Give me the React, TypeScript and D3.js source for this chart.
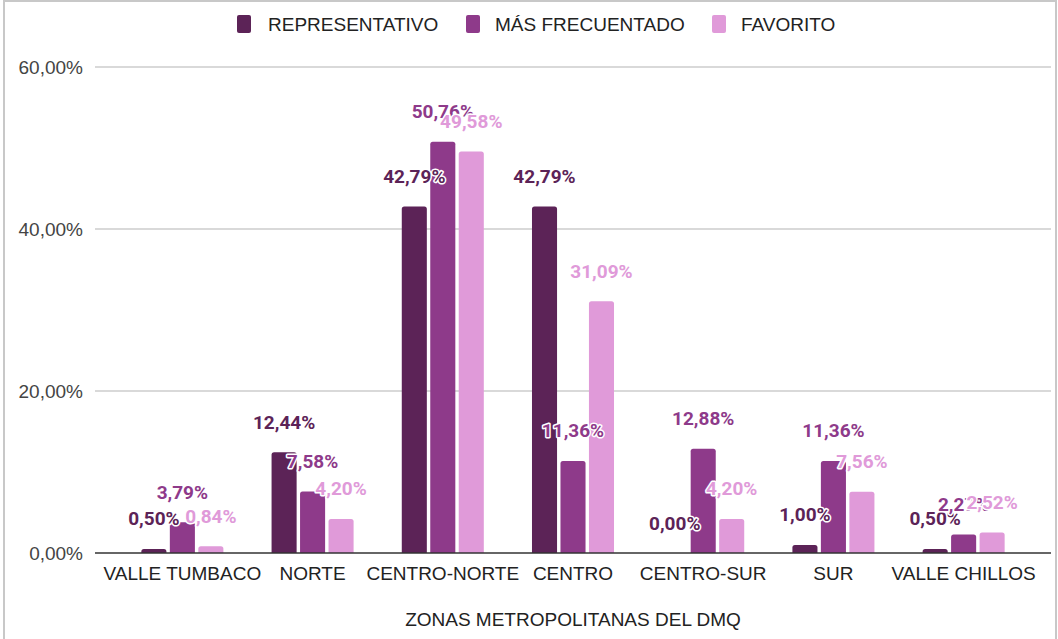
import React from "react";
import * as d3 from "d3";

const categories = ["VALLE TUMBACO", "NORTE", "CENTRO-NORTE", "CENTRO", "CENTRO-SUR", "SUR", "VALLE CHILLOS"];
const seriesNames = ["REPRESENTATIVO", "MÁS FRECUENTADO", "FAVORITO"];
const representativo = [0.5, 12.44, 42.79, 42.79, 0.0, 1.0, 0.5];
const masFrecuentado = [3.79, 7.58, 50.76, 11.36, 12.88, 11.36, 2.27];
const favorito = [0.84, 4.2, 49.58, 31.09, 4.2, 7.56, 2.52];
const yTicks = [0, 20, 40, 60];
const colors = ["#5c2357", "#8e3a8a", "#e09ad9"];
const xTitle = "ZONAS METROPOLITANAS DEL DMQ";

const W = 1058;
const H = 639;
const FONT = "'Liberation Sans', Arial, sans-serif";
const LABEL_FONT = "Roboto, 'Noto Sans', sans-serif";

const fmt = (v: number) => v.toFixed(2).replace(".", ",") + "%";

function topRoundedBar(x: number, y: number, w: number, h: number, r: number) {
  if (h <= 0) return "";
  const rr = Math.min(r, h, w / 2);
  return `M${x},${y + h}V${y + rr}Q${x},${y} ${x + rr},${y}H${x + w - rr}Q${x + w},${y} ${x + w},${y + rr}V${y + h}Z`;
}

export default function App() {
  const series = [representativo, masFrecuentado, favorito];
  const plotLeft = 95;
  const plotRight = 1051;
  const y = d3.scaleLinear().domain([0, 60]).range([553, 67]);
  const x0 = d3.scaleBand<string>().domain(categories).range([plotLeft, plotRight]).paddingInner(0.37).paddingOuter(0.356);
  const x1 = d3.scaleBand<string>().domain(seriesNames).range([0, x0.bandwidth()]).paddingInner(0.12);

  const axisFont = 19;
  const sq = 14;
  const legendItems = [
    { name: seriesNames[0], x: 237, tx: 268 },
    { name: seriesNames[1], x: 466, tx: 495 },
    { name: seriesNames[2], x: 712, tx: 741 },
  ];

  return (
    <svg width={W} height={H} style={{ position: "absolute", left: 0, top: 0, background: "#fff" }} fontFamily={FONT}>
      <rect x={0} y={0} width={W} height={H} fill="#fff" />
      <rect x={4} y={1} width={1052} height={H + 10} fill="none" stroke="#c8c8c8" strokeWidth={2} />
      {/* legend */}
      {legendItems.map((it, i) => (
        <g key={it.name}>
          <rect x={it.x} y={15} width={sq} height={18} rx={2} fill={colors[i]} />
          <text x={it.tx} y={30.5} fontSize={axisFont} fill="#222">{it.name}</text>
        </g>
      ))}
      {/* gridlines */}
      {yTicks.map((t) => (
        <g key={t}>
          {t !== 0 && <line x1={plotLeft} x2={plotRight} y1={y(t)} y2={y(t)} stroke="#cccccc" strokeWidth={1.5} />}
          <text x={83} y={y(t) + 6.5} textAnchor="end" fontSize={axisFont} fill="#444">{fmt(t)}</text>
        </g>
      ))}
      {/* bars */}
      {categories.map((c, ci) => (
        <g key={c} transform={`translate(${x0(c)},0)`}>
          {seriesNames.map((s, si) => {
            const v = series[si][ci];
            const bx = x1(s)!;
            const by = y(v);
            return <path key={s} d={topRoundedBar(bx, by, x1.bandwidth(), y(0) - by, 2.5)} fill={colors[si]} />;
          })}
        </g>
      ))}
      {/* baseline */}
      <line x1={plotLeft} x2={plotRight} y1={y(0)} y2={y(0)} stroke="#333" strokeWidth={1.5} />
      {/* x labels */}
      {categories.map((c) => (
        <text key={c} x={x0(c)! + x0.bandwidth() / 2} y={580} textAnchor="middle" fontSize={axisFont} fill="#222">{c}</text>
      ))}
      <text x={(plotLeft + plotRight) / 2} y={626} textAnchor="middle" fontSize={axisFont} fill="#222">{xTitle}</text>
      {/* data labels */}
      {seriesNames.map((s, si) => (
        <g key={s}>
          {categories.map((c, ci) => {
            const v = series[si][ci];
            return (
              <text
                key={c}
                x={x0(c)! + x1(s)! + x1.bandwidth() / 2}
                y={y(v) - 23.5}
                textAnchor="middle"
                fontFamily={LABEL_FONT}
                fontSize={19}
                fontWeight={700}
                fill={colors[si]}
                stroke="#fff"
                strokeWidth={3}
                strokeLinejoin="round"
                paintOrder="stroke"
              >
                {fmt(v)}
              </text>
            );
          })}
        </g>
      ))}
    </svg>
  );
}
